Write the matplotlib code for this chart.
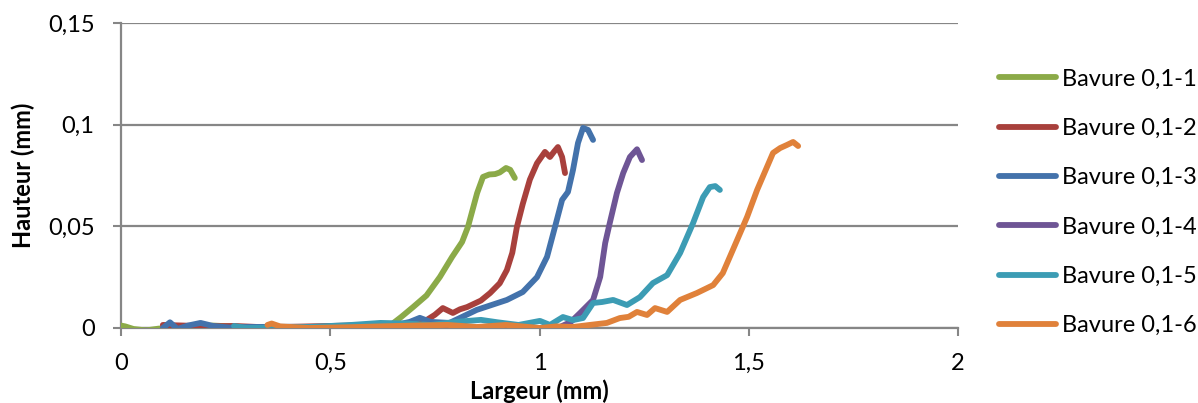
import matplotlib
matplotlib.use('Agg')
import matplotlib.pyplot as plt
from matplotlib.ticker import FixedLocator

# Données (Largeur / Hauteur en mm)
green_x = [0, 0.01, 0.03, 0.06, 0.09, 0.15, 0.22, 0.3, 0.4, 0.5, 0.56, 0.6, 0.643, 0.67, 0.698,
           0.73, 0.762, 0.791, 0.815, 0.829, 0.851, 0.865, 0.88, 0.894, 0.905, 0.92, 0.93, 0.941]
green_y = [0.0012, 0.0008, -0.0005, -0.0012, -0.0003, 0.0002, 0.0012, 0.0004, 0.0003, 0.0006, 0.0009,
           0.0004, 0.0012, 0.0055, 0.0103, 0.016, 0.0251, 0.0349, 0.0423, 0.0497, 0.0664, 0.0743,
           0.0755, 0.0757, 0.0765, 0.0787, 0.0778, 0.0738]

red_x = [0.1, 0.15, 0.2, 0.27, 0.35, 0.45, 0.55, 0.65, 0.7, 0.731, 0.75, 0.769, 0.793, 0.81, 0.827,
         0.86, 0.882, 0.905, 0.922, 0.935, 0.946, 0.96, 0.977, 0.994, 1.013, 1.025, 1.035, 1.044,
         1.054, 1.061]
red_y = [0.0015, 0.0012, 0.0008, 0.001, 0.0003, 0.0008, 0.0012, 0.0015, 0.0025, 0.004, 0.0065,
         0.0098, 0.0074, 0.0092, 0.0103, 0.0135, 0.0172, 0.022, 0.0285, 0.037, 0.0497, 0.061, 0.073,
         0.081, 0.0866, 0.0841, 0.0868, 0.089, 0.0841, 0.0762]

blue_x = [0.1, 0.117, 0.135, 0.16, 0.19, 0.22, 0.26, 0.3, 0.4, 0.5, 0.55, 0.6, 0.65, 0.69, 0.714,
          0.74, 0.785, 0.85, 0.922, 0.96, 0.994, 1.018, 1.037, 1.054, 1.068, 1.08, 1.092, 1.104,
          1.116, 1.128]
blue_y = [0.0, 0.0028, -0.0005, 0.0012, 0.0025, 0.001, 0.0002, 0.0005, 0.0006, 0.0004, 0.0012,
          0.0008, 0.0012, 0.003, 0.005, 0.003, 0.0025, 0.0089, 0.0138, 0.0177, 0.025, 0.035, 0.0497,
          0.063, 0.0669, 0.0777, 0.091, 0.0984, 0.0974, 0.0925]

purple_x = [0.45, 0.55, 0.65, 0.75, 0.85, 0.95, 1.0, 1.049, 1.075, 1.097, 1.128, 1.145, 1.157,
            1.168, 1.185, 1.2, 1.216, 1.233, 1.245]
purple_y = [0.0, 0.0005, 0.0003, 0.0, -0.0005, 0.0, 0.0, 0.0005, 0.003, 0.0074, 0.0138, 0.0251,
            0.0418, 0.0517, 0.0664, 0.0762, 0.0841, 0.0879, 0.0826]

teal_x = [0.27, 0.3, 0.36, 0.45, 0.55, 0.62, 0.68, 0.74, 0.8, 0.86, 0.9, 0.95, 1.001, 1.025, 1.056,
          1.08, 1.104, 1.128, 1.15, 1.176, 1.209, 1.24, 1.271, 1.305, 1.336, 1.367, 1.391, 1.407,
          1.42, 1.431]
teal_y = [0.001, 0.0, 0.0002, 0.0005, 0.0015, 0.0025, 0.0022, 0.0015, 0.003, 0.004, 0.0028, 0.0015,
          0.0035, 0.0015, 0.0054, 0.0039, 0.0049, 0.0123, 0.0128, 0.0138, 0.0113, 0.0152, 0.0221,
          0.026, 0.0369, 0.0516, 0.0644, 0.0693, 0.0698, 0.0679]

orange_x = [0.35, 0.36, 0.38, 0.45, 0.55, 0.62, 0.7, 0.78, 0.85, 0.92, 1.001, 1.04, 1.08, 1.12,
            1.161, 1.192, 1.213, 1.233, 1.257, 1.276, 1.305, 1.336, 1.376, 1.415, 1.438, 1.462,
            1.496, 1.52, 1.558, 1.575, 1.591, 1.606, 1.618]
orange_y = [0.0015, 0.0022, 0.0008, 0.0, 0.0004, 0.0008, 0.0012, 0.0015, 0.0005, 0.0015, 0.0,
            0.0008, 0.0005, 0.0015, 0.0025, 0.0049, 0.0055, 0.0079, 0.0064, 0.0098, 0.0079, 0.0138,
            0.0172, 0.0211, 0.027, 0.0384, 0.0546, 0.0679, 0.0861, 0.0885, 0.09, 0.0915, 0.0895]

labels = ['Bavure 0,1-1', 'Bavure 0,1-2', 'Bavure 0,1-3',
          'Bavure 0,1-4', 'Bavure 0,1-5', 'Bavure 0,1-6']
x_ticks = [0, 0.5, 1, 1.5, 2]
x_ticklabels = ['0', '0,5', '1', '1,5', '2']
y_ticks = [0, 0.05, 0.1, 0.15]
y_ticklabels = ['0', '0,05', '0,1', '0,15']

series = [(green_x, green_y), (red_x, red_y), (blue_x, blue_y),
          (purple_x, purple_y), (teal_x, teal_y), (orange_x, orange_y)]
colors = ['#8BAA48', '#A8403C', '#4372AB', '#6E5595', '#3C9CB4', '#E0813A']

plt.rcParams['font.family'] = ['Lato', 'DejaVu Sans']
grey = '#868686'
fs = 17

fig = plt.figure(figsize=(11.98, 4.03), dpi=100)
ax = fig.add_axes([121 / 1198, 75 / 403, (958 - 121) / 1198, (328 - 23) / 403])

for (xs, ys), c, lab in zip(series, colors, labels):
    ax.plot(xs, ys, color=c, lw=4.2, label=lab, solid_capstyle='round',
            solid_joinstyle='round', zorder=3)

ax.set_xlim(0, 2)
ax.set_ylim(0, 0.15)
ax.xaxis.set_major_locator(FixedLocator(x_ticks))
ax.yaxis.set_major_locator(FixedLocator(y_ticks))
ax.set_xticklabels(x_ticklabels)
ax.set_yticklabels(y_ticklabels)
ax.tick_params(axis='both', labelsize=fs, color=grey, width=1.5, length=6, direction='out')
ax.tick_params(axis='x', pad=12)
ax.tick_params(axis='y', pad=13)

ax.grid(axis='y', color=grey, lw=1.6, zorder=0)
ax.set_axisbelow(True)
for s in ['top', 'right']:
    ax.spines[s].set_visible(False)
for s in ['left', 'bottom']:
    ax.spines[s].set_color(grey)
    ax.spines[s].set_linewidth(1.6)

ax.set_xlabel('Largeur (mm)', fontsize=fs, fontweight='bold', labelpad=4)
ax.set_ylabel('Hauteur (mm)', fontsize=fs, fontweight='bold', labelpad=9)

fig.legend(loc='center left', bbox_to_anchor=(999 / 1198, 1 - 202.5 / 403), frameon=False,
           fontsize=fs, handlelength=2.4, handletextpad=0.25, labelspacing=1.2,
           borderpad=0, borderaxespad=0)

fig.savefig('out.png', dpi=100)
